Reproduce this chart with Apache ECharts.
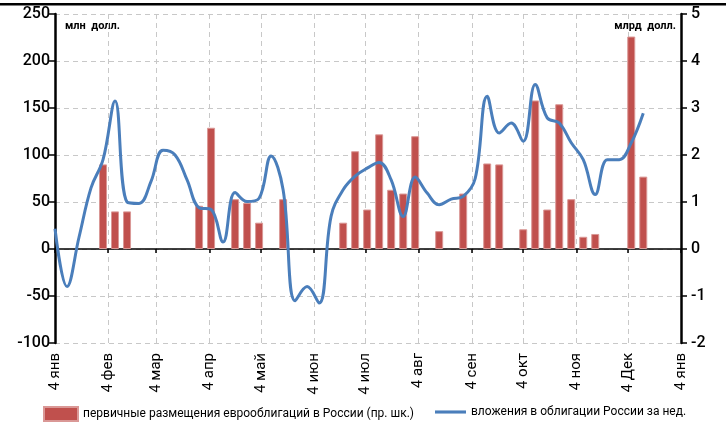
<!DOCTYPE html>
<html lang="ru">
<head>
<meta charset="UTF-8">
<title>еврооблигации</title>
<style>
  * { margin: 0; padding: 0; }
  html, body, #chart { width: 726px; height: 443px; overflow: hidden; background: #fff; }
</style>
</head>
<body>
<div id="chart"></div>
<script src="https://cdn.jsdelivr.net/npm/echarts@6/dist/echarts.min.js"></script>
<script>
  // подписи месяцев (дни от 4 янв)
  const monthDays = [0, 31, 59, 90, 120, 151, 181, 212, 243, 273, 304, 334, 365];
  const monthLabels = ['4 янв', '4 фев', '4 мар', '4 апр', '4 май', '4 июн', '4 июл',
                       '4 авг', '4 сен', '4 окт', '4 ноя', '4 Дек', '4 янв'];

  // первичные размещения, млн долл. (номер недели -> объём)
  const barWeeks = [4, 5, 6, 12, 13, 15, 16, 17, 19, 24, 25, 26, 27, 28, 29, 30, 32, 34,
                    36, 37, 39, 40, 41, 42, 43, 44, 45, 48, 49];
  const barValues = [90, 40, 40, 46, 129, 53, 49, 28, 53, 28, 104, 42, 122, 63, 59, 120, 19, 59,
                     91, 90, 21, 158, 42, 154, 53, 13, 16, 226, 77];

  // вложения за неделю, млрд долл. (недели 0..49)
  const lineValues = [0.43, -0.8, 0.25, 1.3, 1.9, 3.15, 1.0, 0.97, 1.44, 2.1,
                      2.0, 1.47, 0.88, 0.84, 0.15, 1.2, 1.01, 1.08, 1.98, 1.26,
                      -1.1, -0.8, -1.15, 0.7, 1.26, 1.55, 1.72, 1.84, 1.47, 0.69,
                      1.53, 1.19, 0.94, 1.06, 1.12, 1.5, 3.25, 2.47, 2.68, 2.29,
                      3.5, 2.79, 2.68, 2.26, 1.9, 1.16, 1.9, 1.9, 2.26, 2.89];

  const barName = 'первичные размещения еврооблигаций в России (пр. шк.)';
  const lineName = 'вложения в облигации России за нед.';
  const font = "Roboto, 'Noto Sans', sans-serif";

  const barData = barWeeks.map((w, i) => [w * 7, barValues[i]]);
  const lineData = lineValues.map((v, w) => [w * 7, v]);

  const chart = echarts.init(document.getElementById('chart'));
  chart.setOption({
    animation: false,
    textStyle: { fontFamily: font },
    grid: { left: 55, right: 45, top: 14, bottom: 100 },
    legend: [{
      left: 38, top: 401,
      itemWidth: 34, itemHeight: 14, itemGap: 2,
      textStyle: { fontFamily: font, fontSize: 12, color: '#000' },
      data: [{ name: barName, icon: 'rect' }]
    }, {
      left: 430, top: 401,
      itemWidth: 31, itemHeight: 14, itemGap: 2,
      textStyle: { fontFamily: font, fontSize: 12, color: '#000' },
      data: [{ name: lineName, icon: 'path://M0,0 L30,0 L30,3 L0,3 Z' }]
    }],
    xAxis: [{
      type: 'value', min: 0, max: 365, position: 'bottom',
      axisLine: { show: false },
      axisTick: { show: false, customValues: monthDays },
      axisLabel: {
        customValues: monthDays, rotate: 90, margin: 10,
        fontFamily: font, fontSize: 15, color: '#000',
        formatter: v => monthLabels[monthDays.indexOf(v)]
      },
      splitLine: { show: true, lineStyle: { color: '#c8c8c8', type: [5, 4], width: 1 } }
    }, {
      type: 'value', min: 0, max: 365, position: 'top',
      axisLine: { onZero: true, lineStyle: { color: '#000', width: 1.5 } },
      axisTick: { show: true, inside: true, length: 4, customValues: monthDays, lineStyle: { color: '#000', width: 1.5 } },
      axisLabel: { show: false },
      splitLine: { show: false }
    }],
    yAxis: [{
      type: 'value', min: -100, max: 250, interval: 50,
      axisLine: { show: true, onZero: false, lineStyle: { color: '#000', width: 2.5 } },
      axisTick: { show: true, length: 6, lineStyle: { color: '#000', width: 1.5 } },
      axisLabel: { fontFamily: font, fontSize: 16, fontWeight: 500, color: '#000', margin: 5 },
      splitLine: { show: true, lineStyle: { color: '#c8c8c8', type: [5, 4], width: 1 } }
    }, {
      type: 'value', min: -2, max: 5, interval: 1, position: 'right',
      axisLine: { show: true, onZero: false, lineStyle: { color: '#000', width: 2.5 } },
      axisTick: { show: true, length: 6, lineStyle: { color: '#000', width: 1.5 } },
      axisLabel: { fontFamily: font, fontSize: 16, fontWeight: 500, color: '#000', margin: 10 },
      splitLine: { show: false }
    }],
    series: [{
      name: barName,
      type: 'bar',
      xAxisIndex: 0, yAxisIndex: 0,
      barWidth: 8,
      itemStyle: { color: '#C0504D', borderColor: '#DA9896', borderWidth: 1 },
      data: barData
    }, {
      name: lineName,
      type: 'line',
      xAxisIndex: 0, yAxisIndex: 1,
      smooth: 0.4,
      symbol: 'none',
      z: 5,
      lineStyle: { color: '#4A7EBB', width: 3 },
      itemStyle: { color: '#4A7EBB' },
      data: lineData
    }],
    graphic: [
      { type: 'rect', shape: { x: 0, y: 3, width: 726, height: 2.5 }, style: { fill: '#000' } },
      { type: 'text', left: 65, top: 21,
        style: { text: 'млн  долл.', fontFamily: font, fontSize: 11, fontWeight: 'bold', fill: '#000' } },
      { type: 'text', right: 50, top: 21,
        style: { text: 'млрд  долл.', fontFamily: font, fontSize: 11, fontWeight: 'bold', fill: '#000' } }
    ]
  });
</script>
</body>
</html>
